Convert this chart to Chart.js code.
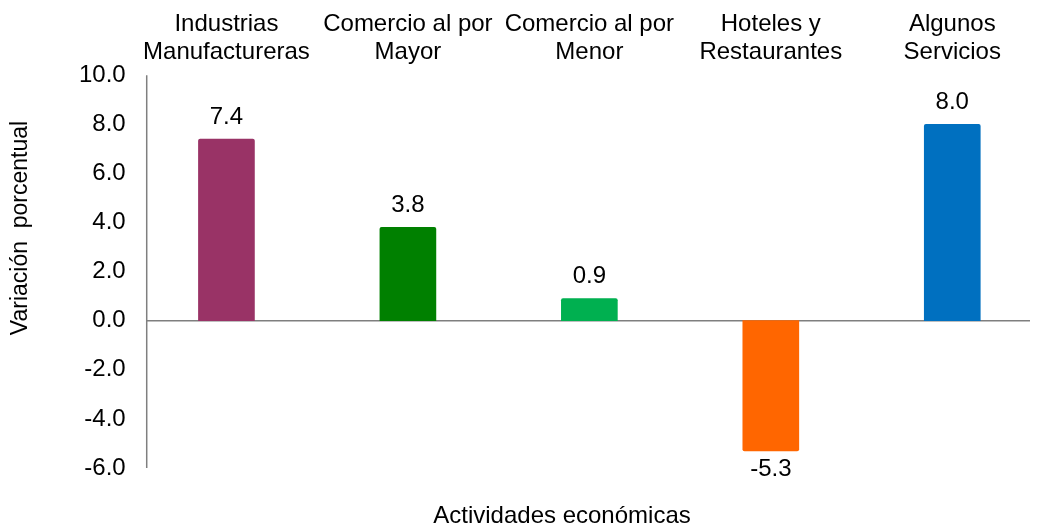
<!DOCTYPE html>
<html>
<head>
<meta charset="utf-8">
<script src="https://cdn.jsdelivr.net/npm/chart.js@4/dist/chart.umd.min.js"></script>
<style>
  html, body { margin: 0; padding: 0; background: #fff; }
  #wrap { width: 1043px; height: 527px; position: relative; }
</style>
</head>
<body>
<div id="wrap"><canvas id="grafica"></canvas></div>
<script>
const categorias = [
  ['Industrias', 'Manufactureras'],
  ['Comercio al por', 'Mayor'],
  ['Comercio al por', 'Menor'],
  ['Hoteles y', 'Restaurantes'],
  ['Algunos', 'Servicios']
];
const variacion = [7.4, 3.8, 0.9, -5.3, 8.0];
const colores = ['#993366', '#008000', '#00B050', '#FF6600', '#0070C0'];
const yMin = -6;
const yMax = 10;
const yPaso = 2;

const FUENTE = "'Liberation Sans', Arial, sans-serif";
const GRIS = '#7f7f7f';

// eje vertical y linea del cero (un poco hacia dentro del area, como en el original)
const ejes = {
  id: 'ejes',
  beforeDatasetsDraw(chart) {
    const { ctx, chartArea, scales } = chart;
    const x0 = chartArea.left + 11;
    const y0 = scales.y.getPixelForValue(0);
    ctx.save();
    ctx.strokeStyle = GRIS;
    ctx.lineWidth = 1.5;
    ctx.beginPath();
    ctx.moveTo(x0, chartArea.top);
    ctx.lineTo(x0, chartArea.bottom);
    ctx.moveTo(x0, y0);
    ctx.lineTo(chartArea.right - 13, y0);
    ctx.stroke();
    ctx.restore();
  }
};

// valores encima / debajo de cada barra
const etiquetasBarras = {
  id: 'etiquetasBarras',
  afterDatasetsDraw(chart) {
    const ctx = chart.ctx;
    const meta = chart.getDatasetMeta(0);
    ctx.save();
    ctx.font = '24px ' + FUENTE;
    ctx.fillStyle = '#000';
    ctx.textAlign = 'center';
    ctx.textBaseline = 'middle';
    meta.data.forEach((bar, i) => {
      const v = variacion[i];
      const y = v >= 0 ? bar.y - 22 : bar.y + 19;
      ctx.fillText(v.toFixed(1), bar.x, y);
    });
    ctx.restore();
  }
};

// titulos de los ejes (el vertical va algo por encima del centro)
const titulos = {
  id: 'titulos',
  afterDraw(chart) {
    const ctx = chart.ctx;
    ctx.save();
    ctx.fillStyle = '#000';
    ctx.textAlign = 'center';
    ctx.textBaseline = 'middle';
    ctx.font = '24px ' + FUENTE;
    ctx.fillText('Actividades económicas', 562, 516);
    ctx.translate(21, 228);
    ctx.rotate(-Math.PI / 2);
    ctx.font = '23px ' + FUENTE;
    ctx.fillText('Variación  porcentual', 0, 0);
    ctx.restore();
  }
};

new Chart(document.getElementById('grafica'), {
  type: 'bar',
  data: {
    labels: categorias,
    datasets: [{
      data: variacion,
      backgroundColor: colores,
      borderWidth: 0,
      borderRadius: 2,
      barThickness: 56
    }]
  },
  options: {
    responsive: true,
    maintainAspectRatio: false,
    animation: false,
    layout: { padding: { top: 2, left: 69, right: 0, bottom: 59 } },
    plugins: {
      legend: { display: false },
      tooltip: { enabled: false }
    },
    scales: {
      x: {
        position: 'top',
        grid: { display: false, drawTicks: false },
        border: { display: false },
        ticks: {
          color: '#000',
          font: { size: 24, family: FUENTE, lineHeight: 1.15 },
          padding: 9,
          maxRotation: 0,
          autoSkip: false
        }
      },
      y: {
        min: yMin,
        max: yMax,
        ticks: {
          stepSize: yPaso,
          color: '#000',
          font: { size: 24, family: FUENTE },
          padding: 10,
          callback: v => v.toFixed(1)
        },
        grid: { display: false, drawTicks: false },
        border: { display: false }
      }
    }
  },
  plugins: [ejes, etiquetasBarras, titulos]
});
</script>
</body>
</html>
